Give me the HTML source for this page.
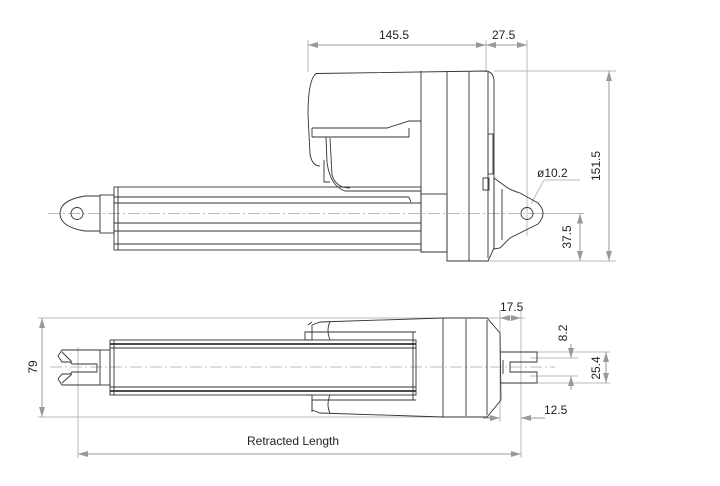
<!DOCTYPE html>
<html><head><meta charset="utf-8"><style>
html,body{margin:0;padding:0;background:#fff;width:720px;height:486px;overflow:hidden}
svg{display:block}
text{font-family:"Liberation Sans",sans-serif;font-size:12px;fill:#222}
</style></head><body>
<svg width="720" height="486" viewBox="0 0 720 486" xmlns="http://www.w3.org/2000/svg">
<defs>
<marker id="a" viewBox="0 0 10 6" refX="10" refY="3" markerWidth="10" markerHeight="6" orient="auto-start-reverse" markerUnits="userSpaceOnUse"><path d="M0,0 L10,3 L0,6 z" fill="#999"/></marker>
</defs>
<!-- ===== TOP VIEW ===== -->
<g stroke="#bbb" stroke-width="1" fill="none">
<line x1="308" y1="40" x2="308" y2="72"/>
<line x1="486" y1="40" x2="486" y2="72"/>
<line x1="527" y1="40" x2="527" y2="236"/>
<line x1="494" y1="71" x2="616" y2="71"/>
<line x1="488" y1="261" x2="616" y2="261"/>
<line x1="540" y1="213.5" x2="584" y2="213.5"/>
<line x1="531" y1="204" x2="544" y2="180"/>
<line x1="544" y1="180" x2="580" y2="180"/>
<line x1="48" y1="213.5" x2="580" y2="213.5" stroke-dasharray="12,3,2,3"/>
</g>
<g stroke="#999" stroke-width="1" fill="none">
<line x1="308" y1="45" x2="486" y2="45" marker-start="url(#a)" marker-end="url(#a)"/>
<line x1="486" y1="45" x2="527" y2="45" marker-start="url(#a)" marker-end="url(#a)"/>
<line x1="609" y1="71" x2="609" y2="261" marker-start="url(#a)" marker-end="url(#a)"/>
<line x1="580" y1="213.5" x2="580" y2="261" marker-start="url(#a)" marker-end="url(#a)"/>
</g>
<text x="379" y="39">145.5</text>
<text x="492" y="39">27.5</text>
<text x="537" y="177">ø10.2</text>
<text transform="translate(600,166) rotate(-90)" text-anchor="middle">151.5</text>
<text transform="translate(571,237) rotate(-90)" text-anchor="middle">37.5</text>

<g stroke="#333" stroke-width="0.9" fill="none">
<path d="M316,73.5 L486,71 Q494,72 494,82 L494,248 L488,261 L447,261 L447,252 L421,252"/>
<path d="M316,73.5 Q308,80 308,114 L310,154 Q312,166 320,166"/>
<line x1="421" y1="71" x2="421" y2="252"/>
<line x1="447" y1="71" x2="447" y2="252"/>
<line x1="469" y1="71" x2="469" y2="261"/>
<line x1="488" y1="72" x2="488" y2="258"/>
<path d="M312,128 L387,128 L409,121 L421,121"/>
<path d="M312,137 L409,137 L409,128"/>
<line x1="312" y1="128" x2="312" y2="137"/>
<path d="M326,137 L327,162 Q330,186 345,191 L421,191"/>
<path d="M324,160 L324,182 L330,182"/>
<path d="M330,138 L332,175 Q336,188 350,188"/>
<rect x="114" y="187" width="307" height="63"/>
<line x1="114" y1="197" x2="409" y2="197"/>
<line x1="409" y1="197" x2="411" y2="202"/>
<line x1="114" y1="203" x2="421" y2="203"/>
<line x1="114" y1="223" x2="421" y2="223"/>
<line x1="114" y1="231" x2="421" y2="231"/>
<line x1="114" y1="244" x2="421" y2="244"/>
<line x1="118" y1="187" x2="118" y2="250"/>
<rect x="421" y="194" width="26" height="58"/>
<rect x="100" y="195" width="14" height="38"/>
<path d="M100,196 L85,196 Q60,200 60,213.5 Q60,227 85,231 L100,231"/>
<circle cx="77" cy="213.5" r="6"/>
<rect x="488" y="134" width="5" height="40"/>
<rect x="483" y="178" width="6" height="12"/>
<path d="M494,178 L505,186 Q510,190 520,193 L538,203 Q548,213 538,224 L510,238 L500,248 L494,249 Z"/>
<line x1="502" y1="189" x2="502" y2="240"/>
<circle cx="527" cy="213.5" r="6"/>
</g>

<!-- ===== BOTTOM VIEW ===== -->
<g stroke="#bbb" stroke-width="1" fill="none">
<line x1="38" y1="318" x2="525" y2="318"/>
<line x1="38" y1="417" x2="490" y2="417"/>
<line x1="78" y1="347" x2="78" y2="458"/>
<line x1="521" y1="310" x2="521" y2="458"/>
<line x1="500" y1="310" x2="500" y2="422"/>
<line x1="537" y1="352" x2="610" y2="352"/>
<line x1="537" y1="383" x2="610" y2="383"/>
<line x1="530" y1="358" x2="578" y2="358"/>
<line x1="530" y1="376" x2="578" y2="376"/>
<line x1="50" y1="367" x2="555" y2="367" stroke-dasharray="12,3,2,3"/>
</g>
<g stroke="#999" stroke-width="1" fill="none">
<line x1="42" y1="318" x2="42" y2="417" marker-start="url(#a)" marker-end="url(#a)"/>
<line x1="78" y1="454" x2="521" y2="454" marker-start="url(#a)" marker-end="url(#a)"/>
<line x1="500" y1="318" x2="521" y2="318" marker-start="url(#a)" marker-end="url(#a)"/>
<line x1="483" y1="418" x2="500" y2="418" marker-end="url(#a)"/>
<line x1="545" y1="418" x2="521" y2="418" marker-end="url(#a)"/>
<line x1="571" y1="344" x2="571" y2="358" marker-end="url(#a)"/>
<line x1="571" y1="390" x2="571" y2="376" marker-end="url(#a)"/>
<line x1="606" y1="352" x2="606" y2="383" marker-start="url(#a)" marker-end="url(#a)"/>
</g>
<text x="500" y="311">17.5</text>
<text x="544" y="414">12.5</text>
<text x="247" y="445">Retracted Length</text>
<text transform="translate(37,367) rotate(-90)" text-anchor="middle">79</text>
<text transform="translate(567,333) rotate(-90)" text-anchor="middle">8.2</text>
<text transform="translate(600,368) rotate(-90)" text-anchor="middle">25.4</text>

<g stroke="#333" stroke-width="0.9" fill="none">
<rect x="110" y="340" width="306" height="55"/>
<line x1="110" y1="344" x2="416" y2="344" stroke-width="1.8"/>
<line x1="110" y1="348" x2="416" y2="348"/>
<line x1="110" y1="387" x2="416" y2="387"/>
<line x1="110" y1="391" x2="416" y2="391" stroke-width="1.8"/>
<line x1="114" y1="340" x2="114" y2="395"/>
<rect x="100" y="350" width="10" height="35"/>
<path d="M100,350 L62,350 L58,356 L62,362 L70,362 L72,364 L97,364 L97,372 L72,372 L70,374 L62,374 L58,379 L62,385 L100,385"/>
<line x1="62" y1="352" x2="72" y2="362"/>
<line x1="62" y1="383" x2="72" y2="374"/>
<path d="M416,332 L312,332 L312,325 L320,322 L443,318 L487,318 L500,333 L501,400 L487,417 L443,417 L320,413 L312,410 L312,400 L416,400"/>
<line x1="443" y1="318" x2="443" y2="417"/>
<line x1="466" y1="319" x2="466" y2="416"/>
<line x1="487" y1="320" x2="487" y2="415"/>
<path d="M413,332 L413,400"/>
<path d="M330,322 Q326,330 330,340"/>
<path d="M330,395 Q326,405 330,413"/>
<path d="M305,332 L312,332 L312,340 L305,340 Z"/>
<path d="M308,325 L312,322"/>
<path d="M306,395 L312,395 L312,412"/>
<path d="M500,352 L537,352 L537,362 L510,362 L510,372 L537,372 L537,383 L500,383"/>
<line x1="503" y1="360" x2="503" y2="374"/>
</g>
</svg>
</body></html>
